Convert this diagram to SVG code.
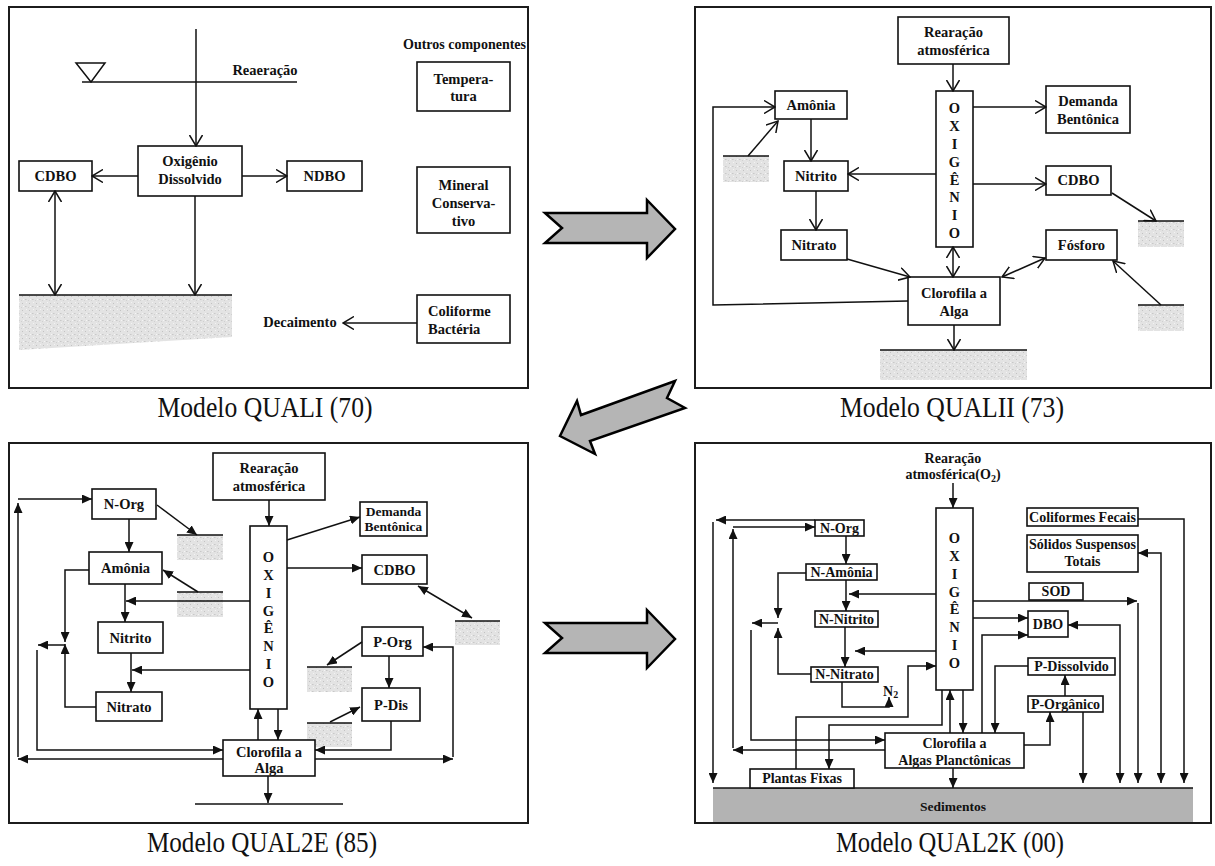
<svg xmlns="http://www.w3.org/2000/svg" width="1215" height="866" viewBox="0 0 1215 866">
<style>
.frame{fill:#fff;stroke:#1c1c1c;stroke-width:2}
.box{fill:#fff;stroke:#111;stroke-width:1.6}
.t{font-family:"Liberation Serif","Times New Roman",serif;font-weight:bold;font-size:14.5px;fill:#111;text-anchor:middle}
.m{font-size:14px}
.s{font-size:13.5px}
.l{text-anchor:start}
.ln{fill:none;stroke:#111;stroke-width:1.5}
.o{marker-end:url(#open)}
.o2{marker-start:url(#open);marker-end:url(#open)}
.f{marker-end:url(#solid)}
.f2{marker-start:url(#solid);marker-end:url(#solid)}
.soil{fill:url(#grain);stroke:none}
.big{fill:#b5b5b5;stroke:#000;stroke-width:2.5;stroke-linejoin:miter}
.cap{font-family:"Liberation Serif","Times New Roman",serif;font-size:30px;fill:#111;text-anchor:middle}
</style>
<defs>
  <marker id="open" viewBox="0 0 12 14" refX="11" refY="7" markerWidth="12" markerHeight="14" markerUnits="userSpaceOnUse" orient="auto-start-reverse">
    <path d="M0,0.5 L11,7 L0,13.5" fill="none" stroke="#111" stroke-width="1.5"/>
  </marker>
  <marker id="solid" viewBox="0 0 10 9" refX="10" refY="4.5" markerWidth="10" markerHeight="9" markerUnits="userSpaceOnUse" orient="auto-start-reverse">
    <path d="M0,0 L10,4.5 L0,9 z" fill="#111"/>
  </marker>
  <pattern id="grain" width="7" height="7" patternUnits="userSpaceOnUse">
    <rect width="7" height="7" fill="#e3e3e3"/>
    <rect x="1" y="2" width="1" height="1" fill="#c2c2c2"/>
    <rect x="4" y="5" width="1.5" height="1" fill="#c8c8c8"/>
    <rect x="5" y="1" width="1" height="1" fill="#f3f3f3"/>
    <rect x="2" y="5" width="1" height="1" fill="#f5f5f5"/>
    <rect x="0" y="6" width="1" height="1" fill="#d0d0d0"/>
  </pattern>
</defs>

<rect width="1215" height="866" fill="#fff"/>

<!-- ===== QUAL-I ===== -->
<g id="panel-quali">
  <rect class="frame" x="9" y="7" width="519" height="381"/>
  <g id="q1-surface">
    <line class="ln" x1="82" y1="82" x2="297" y2="82"/>
    <polygon points="76,63 105,63 91,82" fill="none" stroke="#111" stroke-width="1.5"/>
    <text class="t" x="265" y="75">Reaeração</text>
  </g>
  <g id="q1-bed">
    <polygon class="soil" points="19,295 232,295 232,337 19,350"/>
    <line class="ln" x1="19" y1="295" x2="232" y2="295"/>
  </g>
  <g id="q1-od"><rect class="box" x="138" y="146" width="104" height="50"/><text class="t" x="190" y="166">Oxigênio</text><text class="t" x="190" y="184">Dissolvido</text></g>
  <g id="q1-cdbo"><rect class="box" x="19" y="161" width="73" height="30"/><text class="t" x="55.5" y="181">CDBO</text></g>
  <g id="q1-ndbo"><rect class="box" x="287" y="161" width="75" height="30"/><text class="t" x="324.5" y="181">NDBO</text></g>
  <text class="t m l" x="403" y="49">Outros componentes</text>
  <g id="q1-temp"><rect class="box" x="417" y="62" width="93" height="49"/><text class="t" x="463.5" y="84">Tempera-</text><text class="t" x="463.5" y="101">tura</text></g>
  <g id="q1-mineral"><rect class="box" x="417" y="167" width="93" height="66"/><text class="t" x="463.5" y="190">Mineral</text><text class="t" x="463.5" y="208">Conserva-</text><text class="t" x="463.5" y="226">tivo</text></g>
  <g id="q1-coli"><rect class="box" x="417" y="295" width="93" height="48"/><text class="t l" x="428" y="316">Coliforme</text><text class="t l" x="428" y="334">Bactéria</text></g>
  <text class="t" x="300" y="327">Decaimento</text>
  <g id="q1-links">
    <path class="ln o" d="M196,29 V146"/>
    <path class="ln o" d="M138,176 H92"/>
    <path class="ln o" d="M242,176 H287"/>
    <path class="ln o2" d="M55,191 V295"/>
    <path class="ln o" d="M195,196 V295"/>
    <path class="ln o" d="M417,323 H343"/>
  </g>
</g>

<!-- ===== QUAL-II ===== -->
<g id="panel-qualii">
  <rect class="frame" x="695" y="7" width="516" height="381"/>
  <g id="q2-beds">
    <rect class="soil" x="723" y="156" width="46" height="26"/><line class="ln" x1="723" y1="156" x2="769" y2="156"/>
    <rect class="soil" x="1138" y="221" width="46" height="26"/><line class="ln" x1="1138" y1="221" x2="1184" y2="221"/>
    <rect class="soil" x="1138" y="305" width="46" height="26"/><line class="ln" x1="1138" y1="305" x2="1184" y2="305"/>
    <rect class="soil" x="880" y="350" width="147" height="30"/><line class="ln" x1="880" y1="350" x2="1027" y2="350"/>
  </g>
  <g id="q2-rear"><rect class="box" x="898" y="17" width="111" height="47"/><text class="t" x="953.5" y="37">Rearação</text><text class="t" x="953.5" y="55">atmosférica</text></g>
  <g id="q2-oxi"><rect class="box" x="936" y="91" width="37" height="156"/>
    <text class="t" x="954.5" y="113">O</text><text class="t" x="954.5" y="131">X</text><text class="t" x="954.5" y="149">I</text><text class="t" x="954.5" y="167">G</text><text class="t" x="954.5" y="185">Ê</text><text class="t" x="954.5" y="202">N</text><text class="t" x="954.5" y="220">I</text><text class="t" x="954.5" y="238">O</text></g>
  <g id="q2-dem"><rect class="box" x="1046" y="86" width="84" height="47"/><text class="t" x="1088" y="106">Demanda</text><text class="t" x="1088" y="124">Bentônica</text></g>
  <g id="q2-amonia"><rect class="box" x="775" y="91" width="72" height="28"/><text class="t" x="811" y="110">Amônia</text></g>
  <g id="q2-nitrito"><rect class="box" x="784" y="161" width="64" height="30"/><text class="t" x="816" y="181">Nitrito</text></g>
  <g id="q2-nitrato"><rect class="box" x="781" y="230" width="66" height="30"/><text class="t" x="814" y="250">Nitrato</text></g>
  <g id="q2-cdbo"><rect class="box" x="1046" y="166" width="65" height="29"/><text class="t" x="1078.5" y="185">CDBO</text></g>
  <g id="q2-fosforo"><rect class="box" x="1046" y="230" width="71" height="30"/><text class="t" x="1081.5" y="250">Fósforo</text></g>
  <g id="q2-alga"><rect class="box" x="908" y="277" width="92" height="48"/><text class="t" x="954" y="298">Clorofila a</text><text class="t" x="954" y="316">Alga</text></g>
  <g id="q2-links">
    <path class="ln o" d="M953,64 V91"/>
    <path class="ln o" d="M973,107 H1046"/>
    <path class="ln o" d="M936,174 H848"/>
    <path class="ln o" d="M973,184 H1046"/>
    <path class="ln o" d="M1112,193 L1156,221"/>
    <path class="ln o" d="M908,301 L713,305 V107 H775"/>
    <path class="ln o" d="M748,156 L778,121"/>
    <path class="ln o" d="M811,119 V161"/>
    <path class="ln o" d="M816,191 V230"/>
    <path class="ln o" d="M847,259 L910,277"/>
    <path class="ln o2" d="M953,247 V277"/>
    <path class="ln o2" d="M1002,277 L1045,258"/>
    <path class="ln o" d="M1161,305 L1113,261"/>
    <path class="ln o" d="M954,325 V350"/>
  </g>
</g>

<!-- ===== QUAL2E ===== -->
<g id="panel-qual2e">
  <rect class="frame" x="9" y="443" width="519" height="380"/>
  <g id="e-beds">
    <rect class="soil" x="177" y="535" width="46" height="25"/><line class="ln" x1="177" y1="535" x2="223" y2="535"/>
    <rect class="soil" x="177" y="592" width="46" height="25"/><line class="ln" x1="177" y1="592" x2="223" y2="592"/>
    <rect class="soil" x="455" y="621" width="45" height="24"/><line class="ln" x1="455" y1="621" x2="500" y2="621"/>
    <rect class="soil" x="307" y="667" width="45" height="25"/><line class="ln" x1="307" y1="667" x2="352" y2="667"/>
    <rect class="soil" x="307" y="723" width="45" height="24"/><line class="ln" x1="307" y1="723" x2="352" y2="723"/>
    <line class="ln" x1="195" y1="804" x2="343" y2="804"/>
  </g>
  <g id="e-rear"><rect class="box" x="213" y="453" width="112" height="47"/><text class="t" x="269" y="473">Rearação</text><text class="t" x="269" y="491">atmosférica</text></g>
  <g id="e-oxi"><rect class="box" x="250" y="526" width="37" height="183"/>
    <text class="t" x="268.5" y="562">O</text><text class="t" x="268.5" y="580">X</text><text class="t" x="268.5" y="598">I</text><text class="t" x="268.5" y="616">G</text><text class="t" x="268.5" y="633">Ê</text><text class="t" x="268.5" y="651">N</text><text class="t" x="268.5" y="669">I</text><text class="t" x="268.5" y="687">O</text></g>
  <g id="e-norg"><rect class="box" x="92" y="489" width="64" height="30"/><text class="t" x="124" y="509">N-Org</text></g>
  <g id="e-amonia"><rect class="box" x="89" y="552" width="73" height="32"/><text class="t" x="125.5" y="573">Amônia</text></g>
  <g id="e-nitrito"><rect class="box" x="98" y="622" width="65" height="31"/><text class="t" x="130.5" y="643">Nitrito</text></g>
  <g id="e-nitrato"><rect class="box" x="96" y="692" width="66" height="29"/><text class="t" x="129" y="712">Nitrato</text></g>
  <g id="e-dem"><rect class="box" x="360" y="502" width="67" height="34"/><text class="t s" x="393.5" y="516">Demanda</text><text class="t s" x="393.5" y="531">Bentônica</text></g>
  <g id="e-cdbo"><rect class="box" x="362" y="555" width="65" height="29"/><text class="t" x="394.5" y="575">CDBO</text></g>
  <g id="e-porg"><rect class="box" x="362" y="627" width="61" height="29"/><text class="t" x="392.5" y="647">P-Org</text></g>
  <g id="e-pdis"><rect class="box" x="362" y="688" width="58" height="33"/><text class="t" x="391" y="710">P-Dis</text></g>
  <g id="e-alga"><rect class="box" x="223" y="740" width="92" height="36"/><text class="t" x="269" y="757">Clorofila a</text><text class="t" x="269" y="773">Alga</text></g>
  <g id="e-links">
    <path class="ln f" d="M269,500 V526"/>
    <path class="ln f" d="M287,540 L360,517"/>
    <path class="ln f" d="M287,568 H362"/>
    <path class="ln f2" d="M418,586 L472,618"/>
    <path class="ln f" d="M157,505 L197,535"/>
    <path class="ln f" d="M129,519 V552"/>
    <path class="ln f" d="M198,592 L163,570"/>
    <path class="ln f" d="M250,601 H126"/>
    <path class="ln f" d="M125,584 V622"/>
    <path class="ln f" d="M250,670 H132"/>
    <path class="ln f" d="M131,653 V692"/>
    <path class="ln f" d="M89,570 H65 V642"/>
    <path class="ln f" d="M96,707 H65 V644"/>
    <path class="ln f" d="M65,645 H38"/>
    <path class="ln f" d="M37,650 V750 H223"/>
    <path class="ln f" d="M223,759 H18"/>
    <path class="ln f" d="M18,757 V503"/>
    <path class="ln f" d="M18,499 H92"/>
    <path class="ln f" d="M315,759 H453"/>
    <path class="ln f" d="M453,757 V647 H423"/>
    <path class="ln f" d="M258,740 V709"/>
    <path class="ln f" d="M278,709 V740"/>
    <path class="ln f" d="M268,776 V803"/>
    <path class="ln f" d="M362,642 L327,665"/>
    <path class="ln f" d="M389,656 V688"/>
    <path class="ln f" d="M330,722 L360,707"/>
    <path class="ln f" d="M391,721 V750 H315"/>
  </g>
</g>

<!-- ===== QUAL2K ===== -->
<g id="panel-qual2k">
  <rect class="frame" x="695" y="443" width="516" height="380"/>
  <g id="k-sedimentos">
    <rect x="713" y="788" width="480" height="34" fill="#b3b3b3"/>
    <line class="ln" x1="713" y1="788" x2="1193" y2="788"/>
    <text class="t s" x="953" y="811">Sedimentos</text>
  </g>
  <g id="k-rear"><text class="t m" x="953" y="463">Rearação</text><text class="t m" x="953" y="479">atmosférica(O<tspan font-size="10" dy="3">2</tspan><tspan dy="-3">)</tspan></text></g>
  <g id="k-oxi"><rect class="box" x="936" y="508" width="37" height="182"/>
    <text class="t" x="954.5" y="543">O</text><text class="t" x="954.5" y="561">X</text><text class="t" x="954.5" y="579">I</text><text class="t" x="954.5" y="597">G</text><text class="t" x="954.5" y="614">Ê</text><text class="t" x="954.5" y="632">N</text><text class="t" x="954.5" y="650">I</text><text class="t" x="954.5" y="668">O</text></g>
  <g id="k-norg"><rect class="box" x="815" y="520" width="49" height="16"/><text class="t m" x="839.5" y="533">N-Org</text></g>
  <g id="k-namonia"><rect class="box" x="806" y="564" width="71" height="16"/><text class="t m" x="841.5" y="577">N-Amônia</text></g>
  <g id="k-nnitrito"><rect class="box" x="815" y="611" width="63" height="16"/><text class="t m" x="846.5" y="624">N-Nitrito</text></g>
  <g id="k-nnitrato"><rect class="box" x="811" y="667" width="67" height="15"/><text class="t m" x="844.5" y="679">N-Nitrato</text></g>
  <text class="t m l" x="883" y="696">N<tspan font-size="10" dy="2">2</tspan></text>
  <g id="k-coli"><rect class="box" x="1027" y="508" width="111" height="18"/><text class="t m" x="1082.5" y="522">Coliformes Fecais</text></g>
  <g id="k-solidos"><rect class="box" x="1027" y="535" width="111" height="37"/><text class="t m" x="1082.5" y="549">Sólidos Suspensos</text><text class="t m" x="1082.5" y="566">Totais</text></g>
  <g id="k-sod"><rect class="box" x="1029" y="583" width="54" height="17"/><text class="t m" x="1056" y="596">SOD</text></g>
  <g id="k-dbo"><rect class="box" x="1028" y="611" width="40" height="26"/><text class="t m" x="1048" y="629">DBO</text></g>
  <g id="k-pdis"><rect class="box" x="1028" y="658" width="87" height="17"/><text class="t m" x="1071.5" y="671">P-Dissolvido</text></g>
  <g id="k-porg"><rect class="box" x="1028" y="696" width="75" height="16"/><text class="t m" x="1065.5" y="709">P-Orgânico</text></g>
  <g id="k-alga"><rect class="box" x="885" y="733" width="139" height="35"/><text class="t m" x="954.5" y="748">Clorofila a</text><text class="t m" x="954.5" y="765">Algas Planctônicas</text></g>
  <g id="k-plantas"><rect class="box" x="750" y="769" width="104" height="19"/><text class="t m" x="802" y="783">Plantas Fixas</text></g>
  <g id="k-links">
    <path class="ln f" d="M953,483 V508"/>
    <path class="ln f" d="M973,601 H1137"/>
    <path class="ln f" d="M1138,603 V783"/>
    <path class="ln f" d="M973,618 H1028"/>
    <path class="ln f" d="M982,733 V635 H1028"/>
    <path class="ln f2" d="M1068,625 H1120 V783"/>
    <path class="ln f" d="M1028,666 H995 V733"/>
    <path class="ln f" d="M1065,696 V675"/>
    <path class="ln f" d="M1024,745 H1050 V712"/>
    <path class="ln f" d="M1083,712 V783"/>
    <path class="ln f" d="M1138,519 H1184 V783"/>
    <path class="ln f2" d="M1138,553 H1161 V783"/>
    <path class="ln f" d="M936,594 H849"/>
    <path class="ln f" d="M936,651 H855"/>
    <path class="ln f" d="M846,536 V564"/>
    <path class="ln f" d="M846,580 V611"/>
    <path class="ln f" d="M845,627 V667"/>
    <path class="ln f" d="M806,573 H778 V618"/>
    <path class="ln f" d="M811,674 H778 V628"/>
    <path class="ln f" d="M778,623 H752"/>
    <path class="ln f" d="M751,630 V740 H885"/>
    <path class="ln f" d="M885,750 H733"/>
    <path class="ln f" d="M733,748 V529"/>
    <path class="ln f" d="M733,527 H815"/>
    <path class="ln f" d="M815,520 H716"/>
    <path class="ln f" d="M713,522 V783"/>
    <path class="ln f" d="M842,682 V707 H889 V697"/>
    <path class="ln f" d="M950,733 V690"/>
    <path class="ln f" d="M963,690 V733"/>
    <path class="ln f" d="M953,768 V788"/>
    <path class="ln f" d="M796,769 V717 H908 V666 H936"/>
    <path class="ln f" d="M942,690 V725 H829 V769"/>
  </g>
</g>

<!-- evolution arrows -->
<g id="evolution-arrows">
  <polygon class="big" points="545,213 647,213 647,200 675,229 647,258 647,243 545,243 562,228"/>
  <polygon class="big" points="560,436 577,401 581,415 675,381 667,398 685,408 590,441 595,454"/>
  <polygon class="big" points="545,623 647,623 647,610 675,639 647,668 647,653 545,653 562,638"/>
</g>

<g id="captions">
  <text class="cap" x="265" y="417" textLength="215" lengthAdjust="spacingAndGlyphs">Modelo QUALI (70)</text>
  <text class="cap" x="952" y="417" textLength="224" lengthAdjust="spacingAndGlyphs">Modelo QUALII (73)</text>
  <text class="cap" x="262" y="852" textLength="230" lengthAdjust="spacingAndGlyphs">Modelo QUAL2E (85)</text>
  <text class="cap" x="950" y="852" textLength="228" lengthAdjust="spacingAndGlyphs">Modelo QUAL2K (00)</text>
</g>
</svg>
